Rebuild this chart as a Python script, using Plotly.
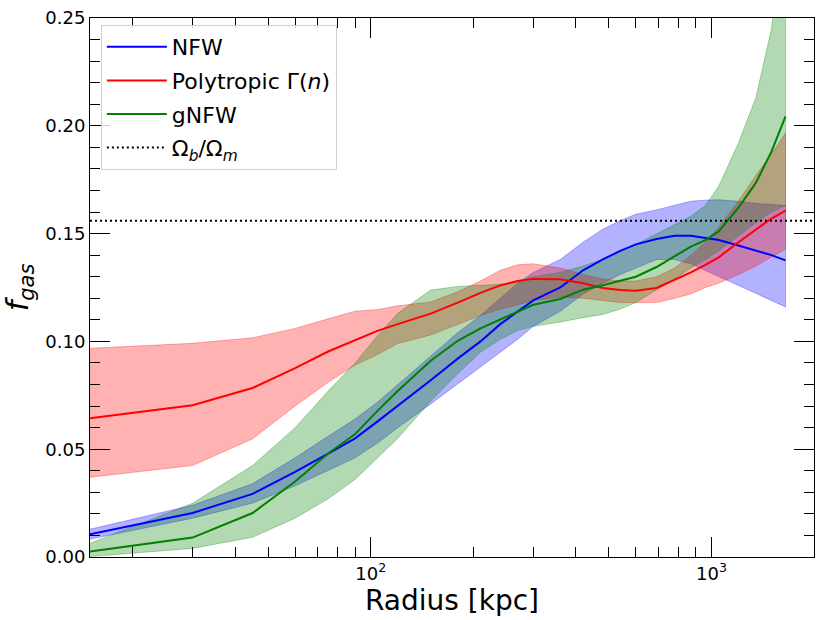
import plotly.graph_objects as go

radius = [15, 30, 45, 60, 75, 90, 105, 120, 150, 180, 210, 240, 270, 300, 360, 420,
          480, 540, 600, 690, 780, 870, 960, 1050, 1200, 1350, 1500, 1650]

nfw = [0.0105, 0.0204, 0.0293, 0.0395, 0.048, 0.055, 0.063, 0.070, 0.082, 0.092, 0.100,
       0.108, 0.114, 0.119, 0.125, 0.133, 0.138, 0.142, 0.145, 0.1475, 0.149, 0.149,
       0.148, 0.147, 0.1445, 0.142, 0.140, 0.1376]
nfw_lo = [0.0083, 0.018, 0.025, 0.033, 0.040, 0.046, 0.053, 0.060, 0.071, 0.080, 0.088,
          0.095, 0.101, 0.107, 0.114, 0.122, 0.127, 0.131, 0.134, 0.138, 0.138, 0.136,
          0.133, 0.130, 0.126, 0.122, 0.119, 0.116]
nfw_hi = [0.0129, 0.024, 0.034, 0.046, 0.056, 0.064, 0.072, 0.080, 0.093, 0.104, 0.112,
          0.120, 0.127, 0.132, 0.138, 0.146, 0.152, 0.156, 0.159, 0.161, 0.163, 0.165,
          0.1655, 0.1657, 0.165, 0.164, 0.1635, 0.163]

poly = [0.0644, 0.0704, 0.0784, 0.0876, 0.0953, 0.1005, 0.105, 0.108, 0.1129, 0.118,
        0.1225, 0.126, 0.128, 0.129, 0.1288, 0.127, 0.1248, 0.1238, 0.1235, 0.1248,
        0.1285, 0.132, 0.1355, 0.139, 0.146, 0.152, 0.157, 0.1607]
poly_lo = [0.037, 0.0424, 0.0548, 0.070, 0.081, 0.089, 0.094, 0.099, 0.103, 0.108, 0.112,
           0.115, 0.117, 0.119, 0.1205, 0.120, 0.119, 0.118, 0.118, 0.118, 0.120, 0.122,
           0.125, 0.127, 0.131, 0.135, 0.139, 0.1428]
poly_hi = [0.0968, 0.0991, 0.1017, 0.106, 0.1105, 0.114, 0.1148, 0.1165, 0.1183, 0.123,
           0.128, 0.133, 0.1355, 0.136, 0.134, 0.131, 0.129, 0.128, 0.128, 0.130, 0.134,
           0.140, 0.146, 0.153, 0.165, 0.177, 0.187, 0.1966]

gnfw = [0.0025, 0.009, 0.0204, 0.035, 0.048, 0.057, 0.068, 0.077, 0.091, 0.1003, 0.106,
        0.110, 0.1135, 0.117, 0.1197, 0.124, 0.126, 0.128, 0.130, 0.1345, 0.1395, 0.144,
        0.147, 0.151, 0.162, 0.1735, 0.188, 0.2044]
gnfw_lo = [0.0002, 0.004, 0.0092, 0.018, 0.027, 0.036, 0.046, 0.055, 0.0723, 0.085, 0.095,
           0.101, 0.105, 0.107, 0.109, 0.111, 0.1125, 0.115, 0.118, 0.124, 0.129, 0.134,
           0.138, 0.142, 0.149, 0.155, 0.160, 0.163]
gnfw_hi = [0.0064, 0.0249, 0.0424, 0.060, 0.077, 0.090, 0.103, 0.113, 0.1238, 0.1255,
           0.126, 0.1265, 0.128, 0.130, 0.132, 0.135, 0.138, 0.142, 0.145, 0.150, 0.154,
           0.158, 0.163, 0.172, 0.192, 0.213, 0.245, 0.30]

omega_ratio = 0.156

x_tickvals = [100, 1000]
x_ticktext = ["10<sup>2</sup>", "10<sup>3</sup>"]
x_minor = [20, 30, 40, 50, 60, 70, 80, 90, 200, 300, 400, 500, 600, 700, 800, 900, 2000]
y_tickvals = [0.00, 0.05, 0.10, 0.15, 0.20, 0.25]

FONT = "DejaVu Sans"

models = [
    ("NFW", nfw, nfw_lo, nfw_hi, "rgb(0,0,255)", "rgba(0,0,255,0.3)"),
    ("Polytropic Γ(<i>n</i>)", poly, poly_lo, poly_hi, "rgb(255,0,0)", "rgba(255,0,0,0.3)"),
    ("gNFW", gnfw, gnfw_lo, gnfw_hi, "rgb(0,128,0)", "rgba(0,128,0,0.3)"),
]

fig = go.Figure()
for name, mid, lo, hi, col, fcol in models:
    fig.add_trace(go.Scatter(
        x=radius + radius[::-1], y=hi + lo[::-1], fill="toself", fillcolor=fcol,
        line=dict(color=fcol, width=1), mode="lines", showlegend=False, hoverinfo="skip"))
for i, (name, mid, lo, hi, col, fcol) in enumerate(models):
    fig.add_trace(go.Scatter(
        x=radius, y=mid, mode="lines", name=name, line=dict(color=col, width=2),
        legendgroup=f"g{i}"))

fig.add_shape(type="line", xref="paper", x0=0, x1=1, yref="y", y0=omega_ratio, y1=omega_ratio,
              line=dict(color="black", width=2, dash="2px,3px"), showlegend=True,
              name="Ω<sub><i>b</i></sub>/Ω<sub><i>m</i></sub>", legendgroup="g3")

axis_common = dict(
    showline=True, linecolor="black", linewidth=1, mirror="allticks",
    ticks="inside", ticklen=20, tickwidth=1, tickcolor="black",
    showgrid=False, zeroline=False,
    tickfont=dict(family=FONT, size=18, color="black"),
)

fig.update_xaxes(
    type="log", range=[1.1761, 3.301], tickvals=x_tickvals, ticktext=x_ticktext,
    minor=dict(tickvals=x_minor, ticks="inside", ticklen=10, tickwidth=1, tickcolor="black"),
    title=dict(text="Radius [kpc]", font=dict(family=FONT, size=28, color="black"), standoff=4),
    **axis_common)
fig.update_yaxes(
    range=[0, 0.25], tickvals=y_tickvals, tickformat=".2f",
    minor=dict(dtick=0.01, ticks="inside", ticklen=10, tickwidth=1, tickcolor="black"),
    title=dict(text="<i>f</i><sub><i>gas</i></sub>", font=dict(family=FONT, size=30, color="black"),
               standoff=10),
    **axis_common)

fig.update_layout(
    width=822, height=620,
    margin=dict(l=90, r=7, t=14, b=63),
    paper_bgcolor="white", plot_bgcolor="white",
    font=dict(family=FONT, color="black"),
    legend=dict(x=0.015, y=0.987, xanchor="left", yanchor="top",
                bgcolor="rgba(255,255,255,0.8)", bordercolor="#d0d0d0", borderwidth=1,
                font=dict(family=FONT, size=22, color="black"), tracegroupgap=2,
                itemwidth=60),
    showlegend=True,
)

fig.write_html("out.html")
